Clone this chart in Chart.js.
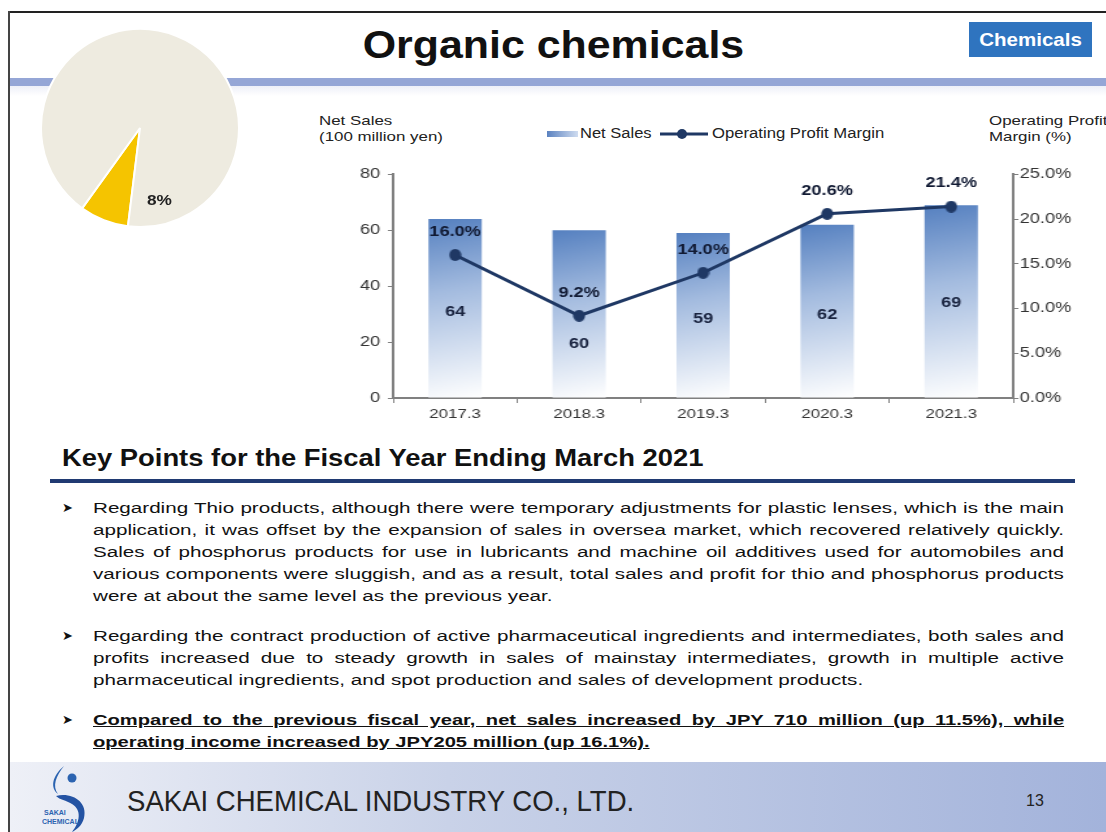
<!DOCTYPE html>
<html>
<head>
<meta charset="utf-8">
<script src="https://cdn.jsdelivr.net/npm/chart.js@4"></script>
<style>
  body { margin: 0; width: 1106px; height: 832px; overflow: hidden; background: #fff; font-family: Arial, "Liberation Sans", sans-serif; position: relative; }
  .abs { position: absolute; }
  .wide { display: inline-block; transform-origin: 0 0; white-space: nowrap; }
  #frameTop { left: 8px; top: 11px; width: 1098px; height: 2px; background: #222; }
  #frameLeft { left: 8px; top: 11px; width: 2px; height: 821px; background: #444; }
  #band { left: 10px; top: 78px; width: 1096px; height: 8px; background: #95a6d6; }
  #bandShade { left: 10px; top: 86px; width: 1096px; height: 10px; background: linear-gradient(#eef0f8, #fff); }
  #title { left: 0; width: 1106px; top: 23px; text-align: center; font-size: 39px; font-weight: bold; color: #111; }
  #title span { display: inline-block; transform: scaleX(1.1); }
  #badge { left: 969px; top: 22px; width: 123px; height: 35px; background: #2f74bf; color: #fff; font-weight: bold; font-size: 19px; line-height: 35px; text-align: center; }
  #badge span { display: inline-block; transform: scaleX(1.08); }
  #pieWrap { left: 40px; top: 28px; width: 200px; height: 200px; }
  #pieLabel { left: 147px; top: 191px; font-size: 15px; font-weight: bold; color: #222; transform: scaleX(1.15); }
  #barWrap { left: 345px; top: 160px; width: 560px; height: 272px; transform: scaleX(1.3); transform-origin: 0 0; }
  .axTitle { font-size: 13px; color: #222; line-height: 16px; transform: scaleX(1.3); }
  .leg { font-size: 14px; color: #222; top: 125px; }
  #keyTitle { left: 62px; top: 445px; font-size: 23px; font-weight: bold; color: #111; transform: scaleX(1.19); }
  #keyRule { left: 50px; top: 479px; width: 1025px; height: 4px; background: #203a72; }
  #points { left: 62px; top: 497px; width: 1002px; font-size: 15.5px; color: #111; line-height: 22px; }
  .pt { position: relative; margin-bottom: 18px; }
  .pt .mk { position: absolute; left: 0; top: 0; font-size: 13px; }
  .pt .tx { display: block; margin-left: 31px; text-align: justify; transform-origin: 0 0; }
  .pt.norm .tx { width: 730px; transform: scaleX(1.33); }
  .pt.bold .tx { width: 747px; transform: scaleX(1.3); font-weight: bold; text-decoration: underline; }
  #footer { left: 10px; top: 762px; width: 1096px; height: 70px; background: linear-gradient(90deg, #eef0f7 0%, #c9d2e8 40%, #a3b3db 100%); }
  #company { left: 127px; top: 785px; font-size: 29px; color: #222; transform: scaleX(0.95); }
  #pageNo { left: 1026px; top: 792px; font-size: 16px; color: #222; }
</style>
</head>
<body>
<div id="frameTop" class="abs"></div>
<div id="frameLeft" class="abs"></div>
<div id="band" class="abs"></div>
<div id="bandShade" class="abs"></div>
<div id="title" class="abs"><span>Organic chemicals</span></div>
<div id="badge" class="abs"><span>Chemicals</span></div>

<div id="pieWrap" class="abs"><canvas id="pie" width="200" height="200"></canvas></div>
<div id="pieLabel" class="abs wide">8%</div>

<div class="abs axTitle wide" style="left:319px; top:113px;">Net Sales<br>(100 million yen)</div>
<div class="abs axTitle wide" style="left:989px; top:113px;">Operating Profit<br>Margin (%)</div>
<div class="abs" style="left:547px; top:131px; width:31px; height:6px; background:linear-gradient(90deg,#5b82c0,#cfdcf0);"></div>
<div class="abs leg wide" style="left:580px; transform:scaleX(1.18);">Net Sales</div>
<svg class="abs" style="left:660px; top:128px;" width="48" height="12"><line x1="0" y1="6" x2="48" y2="6" stroke="#1f3864" stroke-width="3"/><circle cx="22" cy="6" r="5" fill="#1f3864"/></svg>
<div class="abs leg wide" style="left:712px; transform:scaleX(1.19);">Operating Profit Margin</div>
<div id="barWrap" class="abs"><canvas id="combo" width="560" height="272"></canvas></div>

<div id="keyTitle" class="abs wide">Key Points for the Fiscal Year Ending March 2021</div>
<div id="keyRule" class="abs"></div>
<div id="points" class="abs">
  <div class="pt norm"><span class="mk">&#10148;</span><span class="tx">Regarding Thio products, although there were temporary adjustments for plastic lenses, which is the main application, it was offset by the expansion of sales in oversea market, which recovered relatively quickly. Sales of phosphorus products for use in lubricants and machine oil additives used for automobiles and various components were sluggish, and as a result, total sales and profit for thio and phosphorus products were at about the same level as the previous year.</span></div>
  <div class="pt norm"><span class="mk">&#10148;</span><span class="tx">Regarding the contract production of active pharmaceutical ingredients and intermediates, both sales and profits increased due to steady growth in sales of mainstay intermediates, growth in multiple active pharmaceutical ingredients, and spot production and sales of development products.</span></div>
  <div class="pt bold"><span class="mk">&#10148;</span><span class="tx">Compared to the previous fiscal year, net sales increased by JPY 710 million (up 11.5%), while operating income increased by JPY205 million (up 16.1%).</span></div>
</div>

<div id="footer" class="abs"></div>
<svg class="abs" style="left:42px; top:762px;" width="52" height="70" viewBox="0 0 52 70">
  <path d="M22 4 C10 14 8 26 16 32 C10 24 14 14 22 4 Z" fill="#2b63b0"/>
  <circle cx="30" cy="16" r="4.5" fill="#2b63b0"/>
  <path d="M14 34 C30 30 46 40 42 56 C40 64 34 68 30 70 C38 60 40 48 30 42 C24 38 18 38 14 34 Z" fill="#2453a3"/>
  <text x="2" y="53" font-size="7" font-weight="bold" fill="#2b63b0" font-family="Arial">SAKAI</text>
  <text x="0" y="62" font-size="7" font-weight="bold" fill="#2b63b0" font-family="Arial">CHEMICAL</text>
</svg>
<div id="company" class="abs wide">SAKAI CHEMICAL INDUSTRY CO., LTD.</div>
<div id="pageNo" class="abs">13</div>

<script>
// chart data
const years = ["2017.3", "2018.3", "2019.3", "2020.3", "2021.3"];
const netSales = [64, 60, 59, 62, 69];
const profitMargin = [16.0, 9.2, 14.0, 20.6, 21.4];
const salesTicks = [0, 20, 40, 60, 80];
const marginTicks = [0, 5, 10, 15, 20, 25];
const shareLabels = ["Organic chemicals", "Other"];
const shareValues = [8, 92];

const STRETCH = 1.3; // the combo canvas is widened by css, like the wide slide fonts
const FONT = "Arial, 'Liberation Sans', sans-serif";
Chart.defaults.font.family = FONT;
Chart.defaults.color = "#333";

new Chart(document.getElementById("pie"), {
  type: "pie",
  data: {
    labels: shareLabels,
    datasets: [{
      data: shareValues,
      backgroundColor: ["#f5c400", "#eeebe0"],
      borderColor: "#ffffff",
      borderWidth: 2
    }]
  },
  options: {
    responsive: false,
    animation: false,
    rotation: 187,
    plugins: { legend: { display: false }, tooltip: { enabled: false } }
  }
});

// round marker after the horizontal stretch
function makeDot() {
  const c = document.createElement("canvas");
  c.width = 10; c.height = 12;
  const g = c.getContext("2d");
  g.fillStyle = "#1f3864";
  g.beginPath();
  g.ellipse(5, 6, 6 / STRETCH, 6, 0, 0, Math.PI * 2);
  g.fill();
  return c;
}

// where the bar value sits inside its bar (fraction of bar height)
const salesLabelPos = [0.48, 0.32, 0.48, 0.48, 0.49];

function barFill(ctx) {
  const chart = ctx.chart;
  const area = chart.chartArea;
  if (!area || ctx.type !== "data") return "#7b9dd2";
  const xs = chart.scales.x;
  const x = xs.getPixelForValue(ctx.dataIndex);
  const top = chart.scales.y.getPixelForValue(ctx.raw);
  const half = area.width / years.length * 0.43 / 2;
  const g = chart.ctx.createLinearGradient(x - half, top, x + half, area.bottom);
  g.addColorStop(0, "#5580c0");
  g.addColorStop(0.4, "#a3bbdf");
  g.addColorStop(1, "#ffffff");
  return g;
}

const valueLabels = {
  id: "valueLabels",
  afterDatasetsDraw(chart) {
    const c = chart.ctx;
    const x = chart.scales.x, y = chart.scales.y, y2 = chart.scales.y2;
    c.save();
    c.textAlign = "center";
    c.textBaseline = "middle";
    c.font = "bold 14px " + FONT;
    c.fillStyle = "#1a2440";
    netSales.forEach((v, i) => {
      c.fillText(String(v), x.getPixelForValue(i), y.getPixelForValue(v * salesLabelPos[i]));
    });
    c.fillStyle = "#111a33";
    profitMargin.forEach((v, i) => {
      c.fillText(v.toFixed(1) + "%", x.getPixelForValue(i), y2.getPixelForValue(v) - 23);
    });
    c.restore();
  }
};

new Chart(document.getElementById("combo"), {
  data: {
    labels: years,
    datasets: [
      {
        type: "line",
        label: "Operating Profit Margin",
        data: profitMargin,
        yAxisID: "y2",
        borderColor: "#1f3864",
        backgroundColor: "#1f3864",
        borderWidth: 3,
        pointStyle: makeDot(),
        pointRadius: 6,
        tension: 0,
        order: 0
      },
      {
        type: "bar",
        label: "Net Sales",
        data: netSales,
        yAxisID: "y",
        backgroundColor: barFill,
        categoryPercentage: 1,
        barPercentage: 0.43,
        order: 1
      }
    ]
  },
  options: {
    responsive: false,
    animation: false,
    layout: { padding: { top: 13, right: 0, left: 0, bottom: 0 } },
    plugins: { legend: { display: false }, tooltip: { enabled: false } },
    scales: {
      x: {
        grid: { display: true, drawOnChartArea: false, drawTicks: true, tickLength: 5, color: "#808080", offset: true },
        border: { color: "#808080", width: 2 },
        ticks: { font: { size: 13 }, color: "#333", padding: 4 },
        afterFit: s => { s.height = 34; }
      },
      y: {
        position: "left",
        min: 0, max: 80,
        afterBuildTicks: s => { s.ticks = salesTicks.map(v => ({ value: v })); },
        grid: { drawOnChartArea: false, tickLength: 4, color: "#808080" },
        border: { color: "#808080", width: 2 },
        ticks: { font: { size: 14 }, color: "#333", padding: 6 },
        afterFit: s => { s.width = 37; }
      },
      y2: {
        position: "right",
        min: 0, max: 25,
        afterBuildTicks: s => { s.ticks = marginTicks.map(v => ({ value: v })); },
        grid: { drawOnChartArea: false, tickLength: 4, color: "#808080" },
        border: { color: "#808080", width: 2 },
        ticks: { font: { size: 14 }, color: "#333", padding: 1, callback: v => v.toFixed(1) + "%" },
        afterFit: s => { s.width = 46; }
      }
    }
  },
  plugins: [valueLabels]
});
</script>
</body>
</html>
